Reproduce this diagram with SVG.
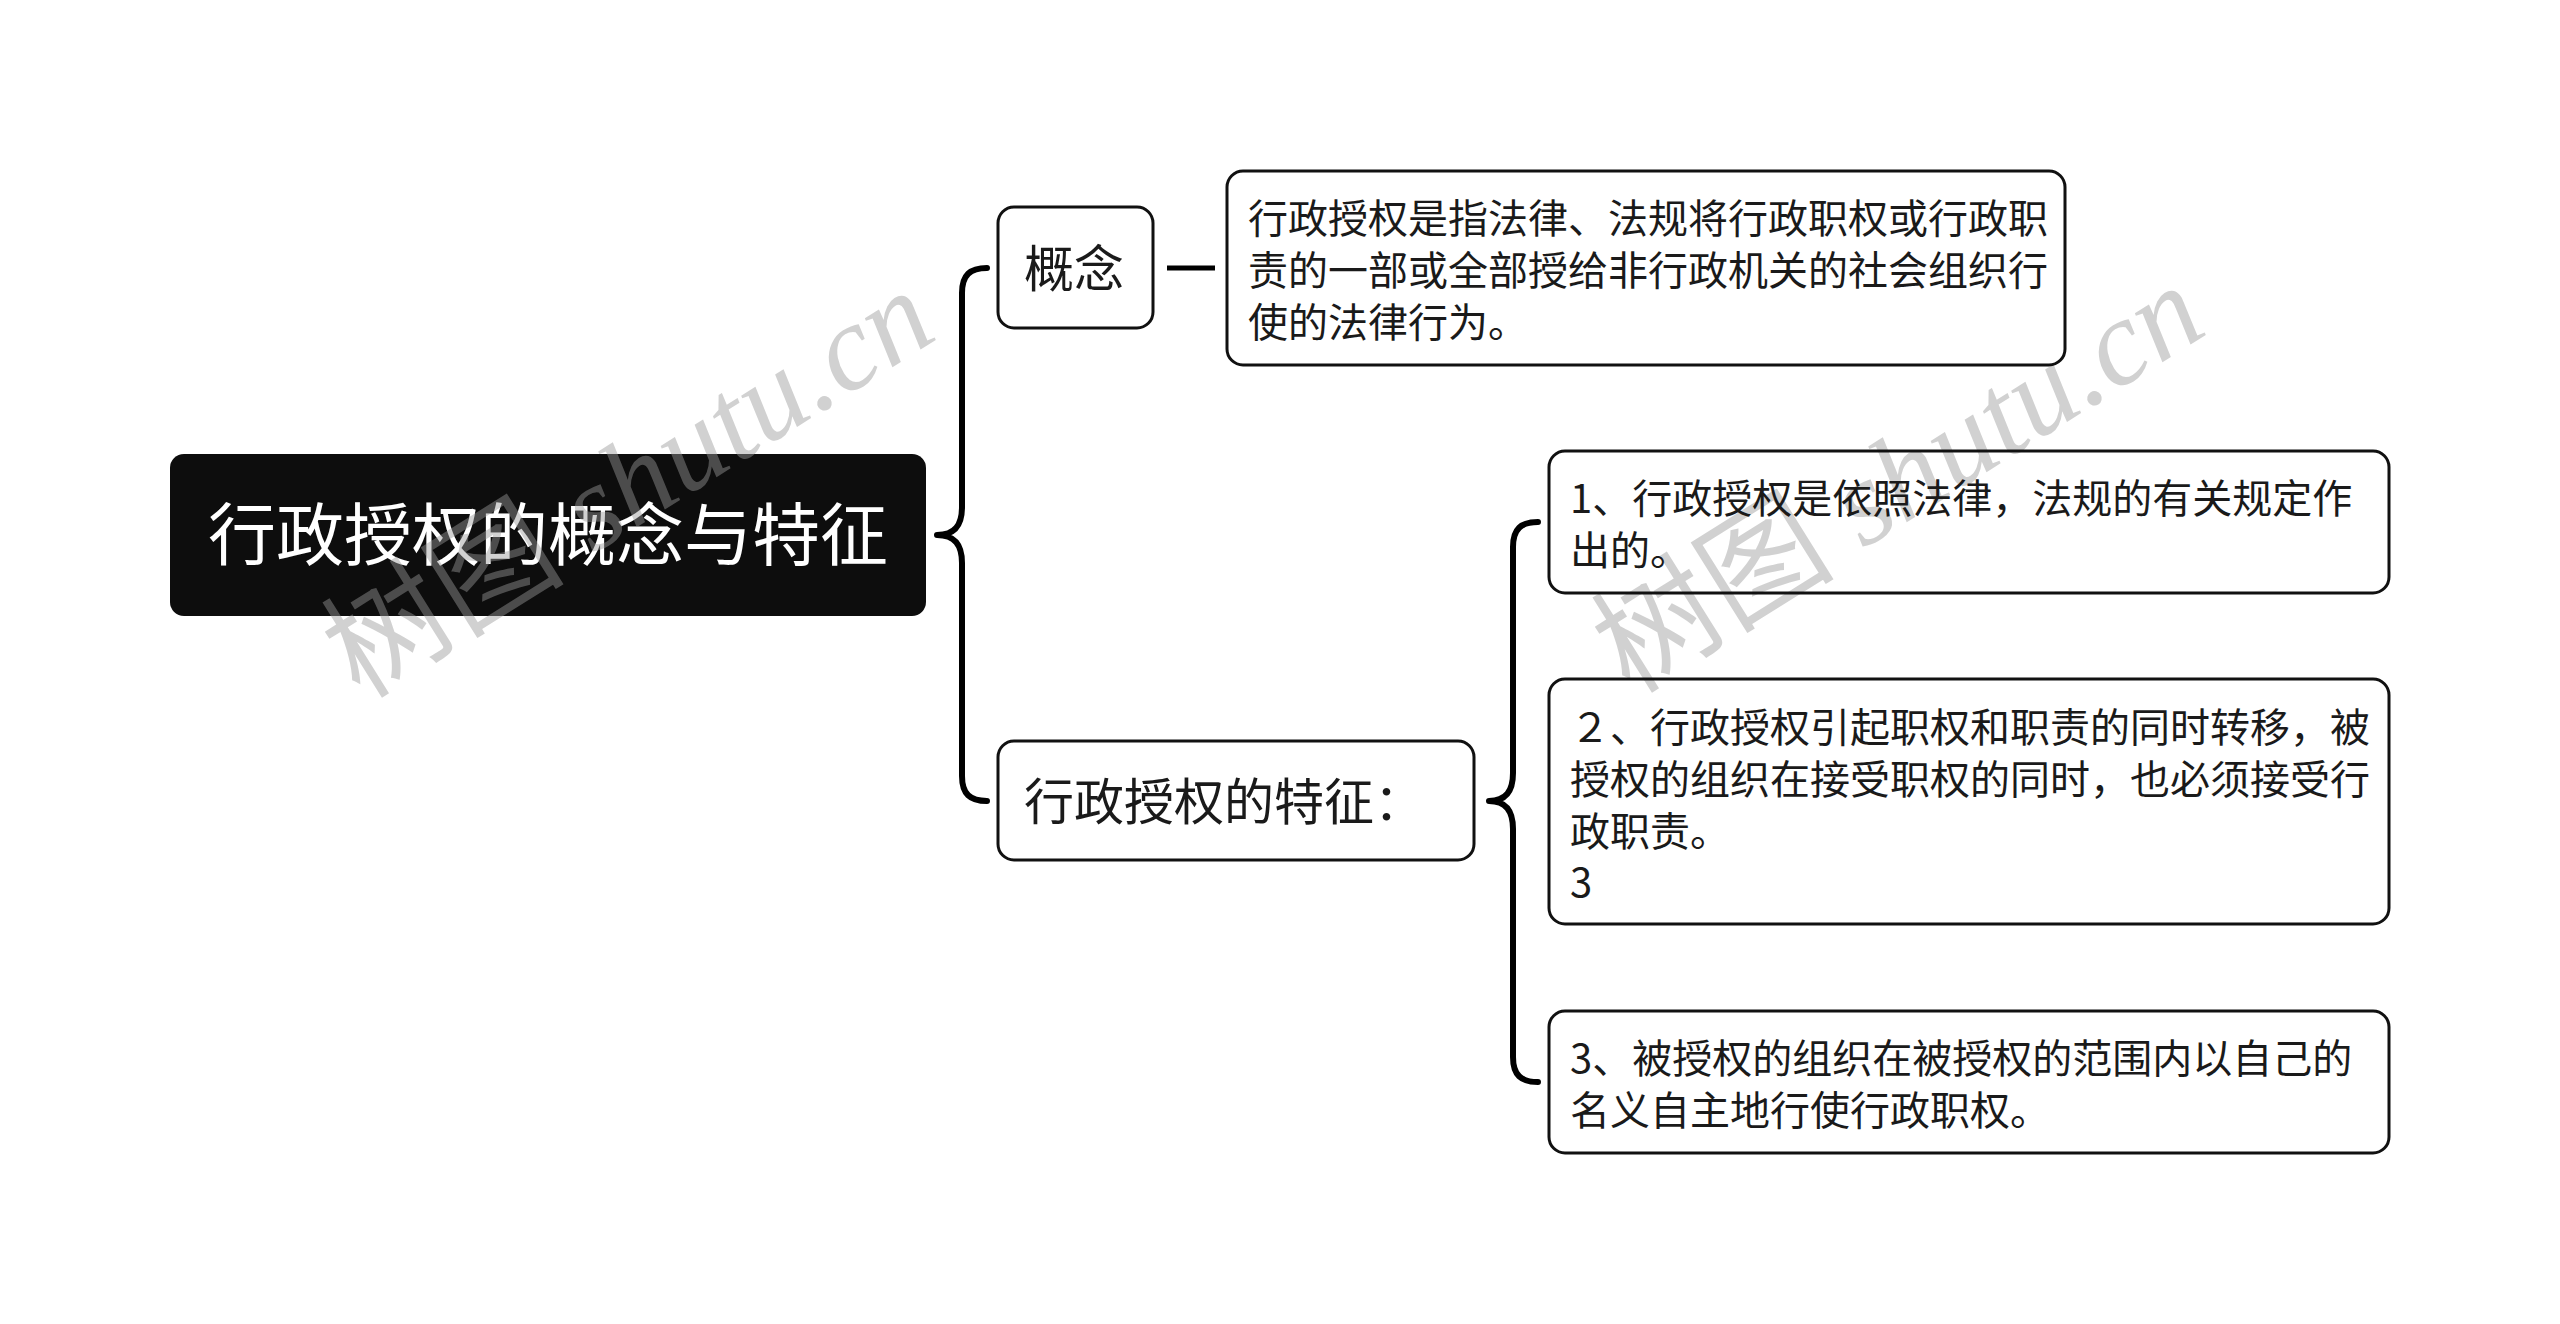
<svg xmlns="http://www.w3.org/2000/svg" width="2560" height="1324" viewBox="0 0 2560 1324">
<style>
.box{fill:none;stroke:#111;stroke-width:3}
.t{font-family:"Noto Sans CJK SC","Noto Sans",sans-serif;fill:#1a1a1a}
.t40{font-size:40px}
.t50{font-size:50px}
.conn{fill:none;stroke:#000;stroke-width:6;stroke-linecap:round;stroke-linejoin:round}
.wm{font-family:"Liberation Serif","Noto Sans CJK SC",serif;font-size:122px;fill:#9a9a9a;opacity:0.45}
</style>
<rect width="2560" height="1324" fill="#fff"/>
<g id="root">
<rect x="170" y="454" width="756" height="162" rx="14" fill="#0d0d0d"/>
<text class="t" x="548" y="560" text-anchor="middle" font-size="68" fill="#fff" style="fill:#fff">行政授权的概念与特征</text>
</g>
<g id="watermarks">
<text class="wm" transform="translate(360,700) rotate(-32)">树图 <tspan font-style="italic">shutu.cn</tspan></text>
<text class="wm" transform="translate(1630,695) rotate(-32)">树图 <tspan font-style="italic">shutu.cn</tspan></text>
</g>
<g id="connectors">
<path class="conn" d="M 987 268 C 970 268 962 275 962 293 L 962 507 C 962 525 955 535 937 535 C 955 535 962 545 962 563 L 962 776 C 962 794 970 801 987 801"/>
<path class="conn" d="M 1167 268 L 1215 268" style="stroke-linecap:butt;stroke-width:5"/>
<path class="conn" d="M 1538 522 C 1521 522 1513 529 1513 547 L 1513 773 C 1513 791 1506 801 1489 801 C 1506 801 1513 811 1513 829 L 1513 1057 C 1513 1075 1521 1082 1538 1082"/>
</g>
<g id="concept">
<rect class="box" x="998" y="207" width="155" height="121" rx="16"/>
<text class="t t50" x="1024" y="287">概念</text>
</g>
<g id="concept-detail">
<rect class="box" x="1227" y="171" width="838" height="194" rx="16"/>
<text class="t t40" x="1248" y="233">行政授权是指法律、法规将行政职权或行政职</text>
<text class="t t40" x="1248" y="285">责的一部或全部授给非行政机关的社会组织行</text>
<text class="t t40" x="1248" y="337">使的法律行为。</text>
</g>
<g id="features">
<rect class="box" x="998" y="741" width="476" height="119" rx="16"/>
<text class="t t50" x="1024" y="820">行政授权的特征：</text>
</g>
<g id="feature-1">
<rect class="box" x="1549" y="451" width="840" height="142" rx="16"/>
<text class="t t40" x="1570" y="513">1、行政授权是依照法律，法规的有关规定作</text>
<text class="t t40" x="1570" y="565">出的。</text>
</g>
<g id="feature-2">
<rect class="box" x="1549" y="679" width="840" height="245" rx="16"/>
<text class="t t40" x="1570" y="742">２、行政授权引起职权和职责的同时转移，被</text>
<text class="t t40" x="1570" y="794">授权的组织在接受职权的同时，也必须接受行</text>
<text class="t t40" x="1570" y="846">政职责。</text>
<text class="t t40" x="1570" y="897">3</text>
</g>
<g id="feature-3">
<rect class="box" x="1549" y="1011" width="840" height="142" rx="16"/>
<text class="t t40" x="1570" y="1073">3、被授权的组织在被授权的范围内以自己的</text>
<text class="t t40" x="1570" y="1125">名义自主地行使行政职权。</text>
</g>
</svg>
